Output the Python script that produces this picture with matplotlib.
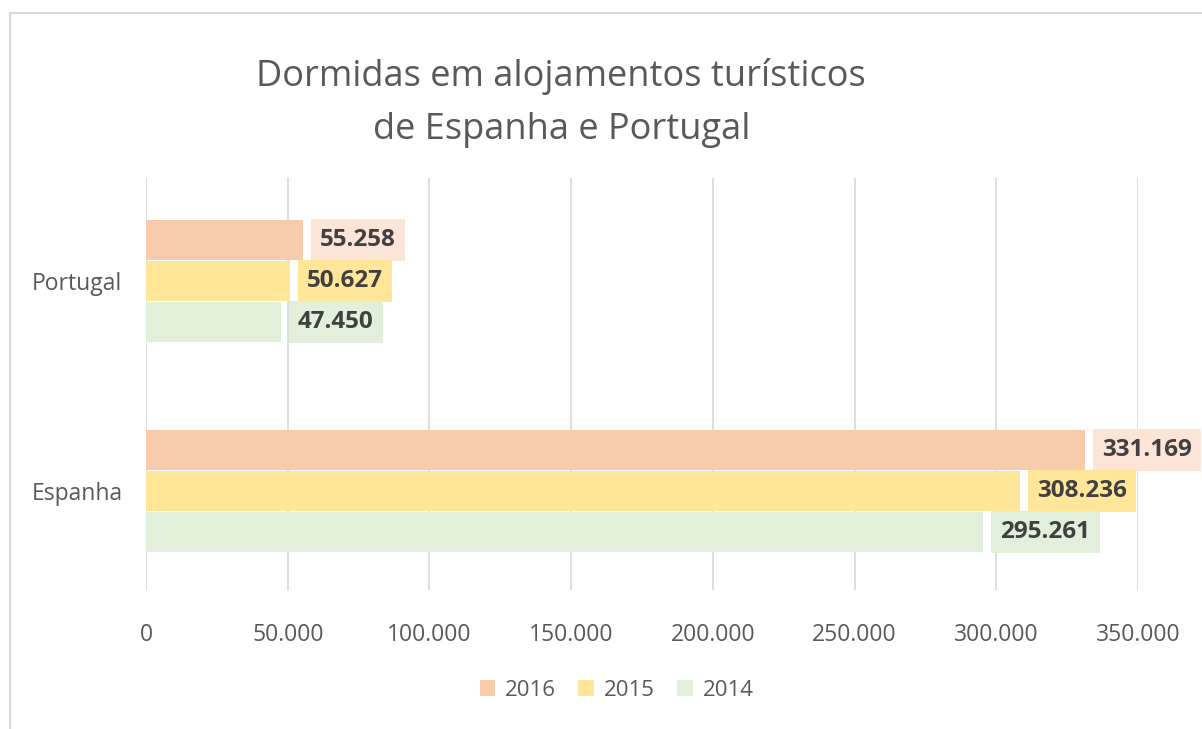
import numpy as np
import matplotlib
matplotlib.use("Agg")
import matplotlib.pyplot as plt
from matplotlib.lines import Line2D
from matplotlib.patches import Patch

TITLE = "Dormidas em alojamentos turísticos\nde Espanha e Portugal"
countries = ["Espanha", "Portugal"]
years = ["2016", "2015", "2014"]
values = {
    "2016": [331169, 55258],
    "2015": [308236, 50627],
    "2014": [295261, 47450],
}
x_ticks = [0, 50000, 100000, 150000, 200000, 250000, 300000, 350000]

bar_colors = {"2016": "#F8CBAD", "2015": "#FFE699", "2014": "#E2EFDA"}
box_colors = {"2016": "#FCE4D6", "2015": "#FFE699", "2014": "#E2EFDA"}
offsets = {"2016": 0.195, "2015": 0.0, "2014": -0.195}

plt.rcParams["font.family"] = ["Open Sans", "DejaVu Sans"]


def fmt(v):
    return f"{v:,}".replace(",", ".")


fig = plt.figure(figsize=(12.02, 7.29), dpi=100)
ax = fig.add_axes([0.1215, 0.1907, 0.8253, 0.5651])

# outer chart border (cut by figure edge on right/bottom)
fig.add_artist(Line2D([10 / 1202, 10 / 1202], [1 - 13 / 729, 0], color="#D9D9D9", lw=1.5))
fig.add_artist(Line2D([10 / 1202, 1], [1 - 13 / 729, 1 - 13 / 729], color="#D9D9D9", lw=1.5))

y = np.arange(len(countries))
for yr in years:
    vals = values[yr]
    ax.barh(y + offsets[yr], vals, height=0.19, color=bar_colors[yr], label=yr, zorder=2)
    for yi, v in zip(y, vals):
        ax.annotate(fmt(v), (v, yi + offsets[yr]), xytext=(12.5, 0), textcoords="offset points",
                    ha="left", va="center", fontsize=17.5, fontweight="bold", color="#404040",
                    bbox=dict(boxstyle="square,pad=0.38", fc=box_colors[yr], ec="none"),
                    annotation_clip=False, zorder=3)

ax.set_xlim(0, 350000)
ax.set_ylim(-0.47, 1.49)
ax.set_xticks(x_ticks)
ax.set_xticklabels([fmt(t) for t in x_ticks])
ax.set_yticks(y)
ax.set_yticklabels(countries)
ax.grid(axis="x", color="#D9D9D9", lw=1.2, zorder=0)
ax.set_axisbelow(True)
for s in ax.spines.values():
    s.set_visible(False)
ax.tick_params(axis="both", length=0, labelsize=16.5, labelcolor="#595959")
ax.tick_params(axis="x", pad=24)
ax.tick_params(axis="y", pad=17)

fig.text(0.467, 0.859, TITLE, ha="center", va="center", fontsize=26, color="#595959",
         linespacing=1.65)

handles = [Patch(facecolor=bar_colors[yr], edgecolor="none") for yr in years]
fig.legend(handles, years, loc="center", bbox_to_anchor=(0.513, 0.053), ncol=3, frameon=False,
           fontsize=16, labelcolor="#595959", handlelength=0.7, handleheight=0.7,
           handletextpad=0.45, columnspacing=1.0)

fig.savefig("out.png", dpi=100)
